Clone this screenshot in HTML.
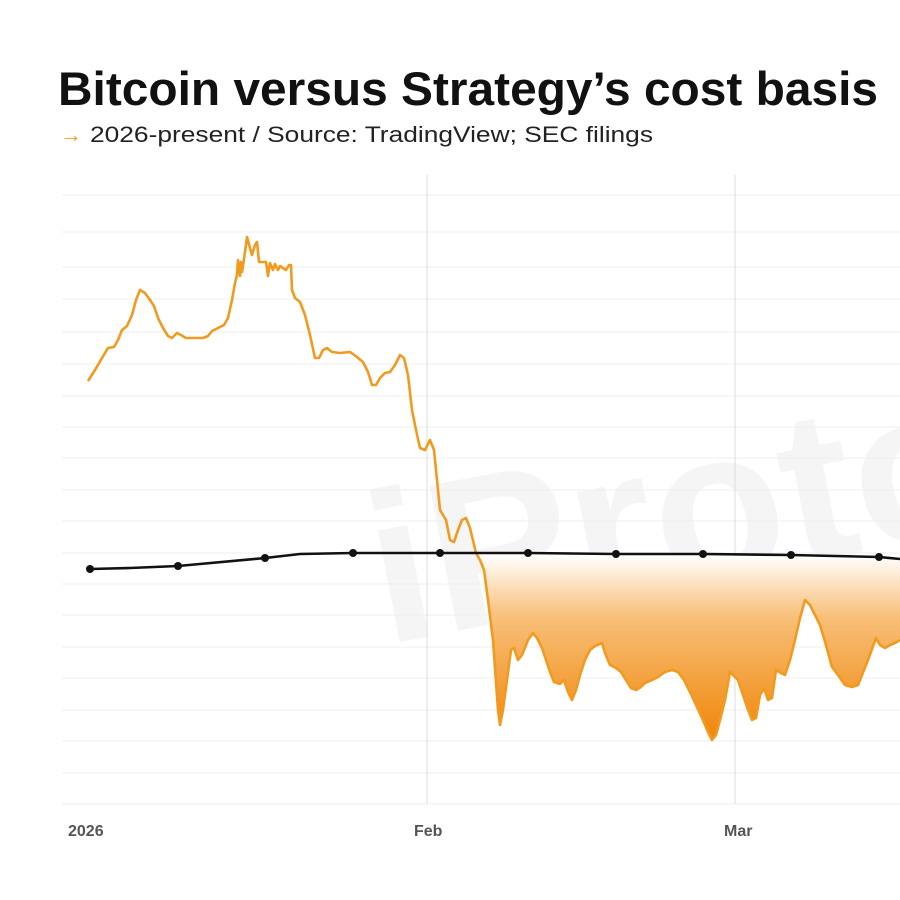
<!DOCTYPE html>
<html><head><meta charset="utf-8"><style>html,body{margin:0;padding:0;background:#fff}svg{display:block}</style></head>
<body>
<svg width="900" height="900" viewBox="0 0 900 900" xmlns="http://www.w3.org/2000/svg" font-family="Liberation Sans, sans-serif">
<defs>
<linearGradient id="g" x1="0" y1="555" x2="0" y2="730" gradientUnits="userSpaceOnUse">
<stop offset="0" stop-color="#ffffff"/>
<stop offset="0.35" stop-color="#f8c07a"/>
<stop offset="1" stop-color="#f08a10"/>
</linearGradient>
<clipPath id="c"><rect x="0" y="170" width="900" height="640"/></clipPath>
</defs>
<rect width="900" height="900" fill="#fff"/>
<text x="58" y="105" font-size="47" font-weight="bold" fill="#111" textLength="820" lengthAdjust="spacingAndGlyphs">Bitcoin versus Strategy’s cost basis</text>
<text x="60" y="142" font-size="22" fill="#f29a1f">→</text>
<text x="90" y="142" font-size="22" fill="#222" textLength="563" lengthAdjust="spacingAndGlyphs">2026-present / Source: TradingView; SEC filings</text>
<g clip-path="url(#c)">
<text x="385" y="645" font-size="215" font-weight="bold" fill="#f5f5f5" transform="rotate(-11 385 645)">iProtos</text>
</g>
<g stroke="#efefef" stroke-width="1">
<line x1="62" x2="900" y1="195" y2="195"/>
<line x1="62" x2="900" y1="232" y2="232"/><line x1="62" x2="900" y1="267" y2="267"/><line x1="62" x2="900" y1="299" y2="299"/><line x1="62" x2="900" y1="332" y2="332"/><line x1="62" x2="900" y1="364" y2="364"/><line x1="62" x2="900" y1="396" y2="396"/><line x1="62" x2="900" y1="427" y2="427"/><line x1="62" x2="900" y1="458" y2="458"/><line x1="62" x2="900" y1="490" y2="490"/><line x1="62" x2="900" y1="521" y2="521"/><line x1="62" x2="900" y1="553" y2="553"/><line x1="62" x2="900" y1="584" y2="584"/><line x1="62" x2="900" y1="615" y2="615"/><line x1="62" x2="900" y1="647" y2="647"/><line x1="62" x2="900" y1="678" y2="678"/><line x1="62" x2="900" y1="710" y2="710"/><line x1="62" x2="900" y1="741" y2="741"/><line x1="62" x2="900" y1="773" y2="773"/><line x1="62" x2="900" y1="804" y2="804"/>
</g>
<g stroke="#dcdcdc" stroke-width="1">
<line x1="427" x2="427" y1="175" y2="804"/><line x1="735" x2="735" y1="175" y2="804"/>
</g>
<polygon fill="url(#g)" points="478,553 480,560 484,570 488,600 493,640 498,710 500,725 503,710 507,680 511,650 514,648 518,660 522,655 528,640 533,633 537,638 542,648 546,660 550,672 554,682 560,684 564,680 568,692 572,700 576,690 580,675 585,660 590,650 595,646 602,643 605,653 610,665 616,668 621,672 626,680 631,688 636,690 641,687 645,683 652,680 658,677 665,672 672,670 678,672 684,680 690,692 696,705 702,718 708,732 712,740 716,735 720,720 725,700 730,672 734,676 738,680 743,695 747,707 752,720 756,718 760,695 764,688 768,700 772,698 776,670 781,673 785,675 790,660 795,640 800,618 805,600 810,605 815,615 820,625 826,645 832,667 838,675 845,685 852,687 858,685 862,675 868,660 876,638 880,645 885,648 890,645 895,643 900,640 900,559 879,557 791,555 703,554 616,554 528,553"/>
<polyline fill="none" stroke="#f29a1f" stroke-width="2.6" stroke-linejoin="round" points="88,381 95,370 102,358 108,348 114,347 118,340 122,330 127,326 132,315 136,300 140,290 145,293 150,300 154,306 158,318 163,328 168,336 172,338 177,333 181,335 186,338 195,338 203,338 208,336 212,331 218,328 224,325 228,318 232,300 235,283 237,275 238,260 240,276 241,262 242,272 245,252 247,237 250,248 252,255 255,245 257,242 259,262 266,262 268,276 270,263 273,270 275,264 278,270 280,266 286,270 289,265 291,265 292,290 295,298 300,302 305,315 310,335 315,358 319,358 323,350 327,348 332,352 340,353 350,352 357,357 363,362 368,372 372,385 376,385 380,378 385,373 390,372 395,365 400,355 404,358 408,375 412,410 416,430 420,448 425,450 430,440 434,450 437,480 440,510 446,520 450,540 454,542 458,530 462,520 466,518 470,528 476,553 480,560 484,570 488,600 493,640 498,710 500,725 503,710 507,680 511,650 514,648 518,660 522,655 528,640 533,633 537,638 542,648 546,660 550,672 554,682 560,684 564,680 568,692 572,700 576,690 580,675 585,660 590,650 595,646 602,643 605,653 610,665 616,668 621,672 626,680 631,688 636,690 641,687 645,683 652,680 658,677 665,672 672,670 678,672 684,680 690,692 696,705 702,718 708,732 712,740 716,735 720,720 725,700 730,672 734,676 738,680 743,695 747,707 752,720 756,718 760,695 764,688 768,700 772,698 776,670 781,673 785,675 790,660 795,640 800,618 805,600 810,605 815,615 820,625 826,645 832,667 838,675 845,685 852,687 858,685 862,675 868,660 876,638 880,645 885,648 890,645 895,643 900,640"/>
<polyline fill="none" stroke="#111" stroke-width="2.6" points="90,569 130,568 178,566 265,558 300,554 353,553 440,553 528,553 616,554 703,554 791,555 879,557 900,559"/>
<g fill="#111">
<circle cx="90" cy="569" r="4"/><circle cx="178" cy="566" r="4"/><circle cx="265" cy="558" r="4"/><circle cx="353" cy="553" r="4"/><circle cx="440" cy="553" r="4"/><circle cx="528" cy="553" r="4"/><circle cx="616" cy="554" r="4"/><circle cx="703" cy="554" r="4"/><circle cx="791" cy="555" r="4"/><circle cx="879" cy="557" r="4"/>
</g>
<g font-size="16" fill="#555" font-weight="bold">
<text x="68" y="836">2026</text><text x="414" y="836">Feb</text><text x="724" y="836">Mar</text>
</g>
</svg>
</body></html>
